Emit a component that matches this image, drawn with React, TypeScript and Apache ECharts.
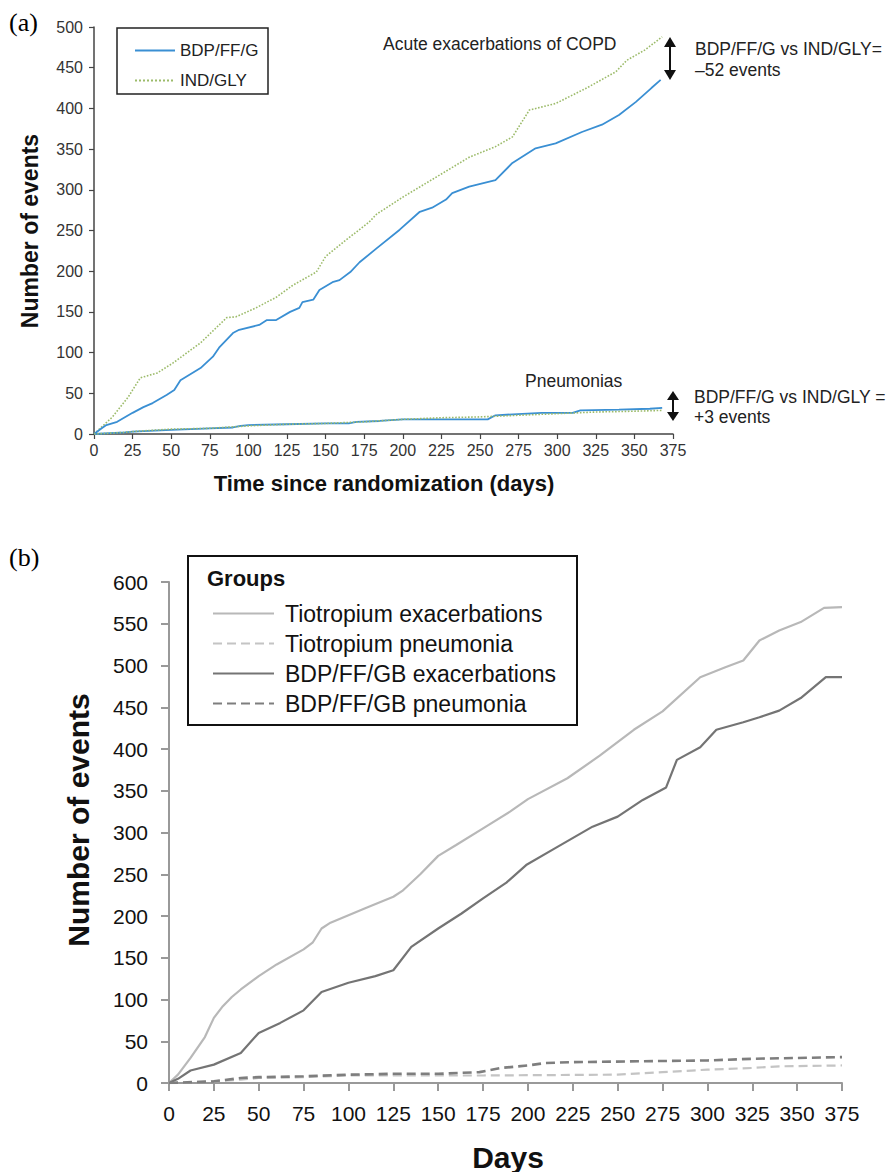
import React, { useEffect, useRef } from "react";
import * as echarts from "echarts";

// ---------- Panel (a) data ----------
const aBdpExDays = [0, 5, 8, 15, 25, 32, 38, 47, 52, 56, 69, 77, 81, 90, 94, 107, 112, 118, 127, 133, 135, 142, 146, 155, 159, 166, 172, 183, 198, 211, 219, 228, 232, 243, 260, 271, 286, 299, 316, 329, 340, 351, 361, 367];
const aBdpExVals = [0, 7, 11, 15, 26, 33, 38, 48, 54, 66, 81, 95, 106, 124, 128, 134, 140, 140, 150, 155, 162, 165, 177, 187, 189, 199, 211, 228, 251, 273, 278, 288, 296, 304, 312, 333, 351, 357, 371, 380, 392, 408, 425, 435];
const aIndExDays = [0, 12, 22, 30, 41, 51, 69, 86, 92, 105, 118, 129, 144, 150, 163, 178, 183, 200, 222, 243, 260, 271, 282, 299, 319, 338, 345, 357, 368];
const aIndExVals = [0, 21, 45, 69, 75, 87, 112, 143, 144, 155, 168, 183, 199, 218, 238, 260, 270, 291, 316, 340, 353, 365, 398, 406, 425, 445, 459, 472, 488];
const aBdpPnDays = [0, 10, 20, 25, 50, 75, 90, 95, 100, 125, 150, 165, 170, 185, 200, 210, 225, 255, 260, 290, 310, 315, 340, 360, 368];
const aBdpPnVals = [0, 1, 2, 3, 5, 7, 8, 10, 11, 12, 13, 13, 15, 16, 18, 18, 18, 18, 23, 26, 26, 29, 30, 31, 32];
const aIndPnDays = [0, 20, 25, 50, 75, 100, 125, 150, 175, 200, 225, 250, 275, 300, 325, 350, 368];
const aIndPnVals = [0, 2, 3, 6, 7, 10, 12, 13, 15, 18, 20, 21, 23, 25, 27, 28, 29];

// ---------- Panel (b) data ----------
const bTioExDays = [0, 5, 12, 20, 25, 30, 35, 40, 50, 60, 75, 80, 85, 90, 100, 110, 125, 130, 140, 150, 160, 175, 190, 200, 222, 240, 259, 275, 296, 310, 320, 329, 340, 352, 365, 375];
const bTioExVals = [0, 10, 30, 55, 78, 92, 103, 112, 128, 142, 160, 168, 185, 192, 201, 210, 223, 230, 250, 272, 285, 305, 325, 340, 365, 392, 423, 445, 486, 498, 506, 530, 542, 552, 569, 570];
const bBdpExDays = [0, 5, 12, 25, 40, 50, 62, 75, 85, 100, 115, 125, 135, 150, 163, 175, 188, 199, 215, 236, 250, 264, 277, 283, 296, 305, 320, 329, 340, 352, 366, 375];
const bBdpExVals = [0, 5, 15, 22, 36, 60, 72, 87, 109, 120, 128, 135, 163, 185, 203, 221, 240, 261, 281, 307, 319, 339, 354, 387, 402, 423, 432, 438, 446, 461, 486, 486];
const bTioPnDays = [0, 25, 40, 50, 75, 100, 150, 175, 250, 275, 300, 325, 340, 375];
const bTioPnVals = [0, 2, 4, 6, 7, 9, 9, 9, 10, 13, 16, 18, 20, 21];
const bBdpPnDays = [0, 25, 40, 50, 75, 100, 125, 150, 173, 185, 200, 210, 225, 300, 325, 375];
const bBdpPnVals = [0, 2, 6, 7, 8, 10, 11, 11, 13, 18, 21, 24, 25, 27, 29, 31];

const aNames = ["BDP/FF/G", "IND/GLY"];
const bNames = ["Tiotropium exacerbations", "Tiotropium pneumonia", "BDP/FF/GB exacerbations", "BDP/FF/GB pneumonia"];

const zip = (xs: number[], ys: number[]) => xs.map((x, i) => [x, ys[i]]);

const SANS = "Liberation Sans, Arial, sans-serif";
const SERIF = "Liberation Serif, Times New Roman, serif";
const NOFILL = { color: "rgba(0,0,0,0)", borderWidth: 0 };

export default function App() {
  const ref = useRef<HTMLDivElement>(null);
  useEffect(() => {
    if (!ref.current) return;
    const chart = echarts.init(ref.current, null, { renderer: "svg" });

    const blue = "#3a8fd3";
    const green = "#9cbb6a";

    const axisA = (isX: boolean) => ({
      type: "value",
      min: 0,
      max: isX ? 375 : 500,
      interval: isX ? 25 : 50,
      axisLine: { show: true, lineStyle: { color: "#444", width: 1.5 } },
      axisTick: { show: true, inside: false, length: 5, lineStyle: { color: "#444", width: 1.2 } },
      axisLabel: { color: "#333", fontSize: 16, fontFamily: SANS, margin: isX ? 8 : 11 },
      splitLine: { show: false },
    });
    const axisB = (isX: boolean) => ({
      type: "value",
      min: 0,
      max: isX ? 375 : 600,
      interval: isX ? 25 : 50,
      axisLine: { show: true, lineStyle: { color: "#999", width: 2 } },
      axisTick: { show: true, inside: false, length: 8, lineStyle: { color: "#999", width: 2 } },
      axisLabel: { color: "#111", fontSize: 21, fontFamily: SANS, margin: isX ? 20 : 21 },
      splitLine: { show: false },
    });

    const textMid = (x: number, y: number, text: string, font: string, rot = 0) => ({
      type: "text", x, y, rotation: rot,
      style: { text, font, fill: "#111", textAlign: "center", textVerticalAlign: "middle", align: "center", verticalAlign: "middle" },
    });
    const textLeft = (x: number, y: number, text: string, font: string) => ({
      type: "text", x, y,
      style: { text, font, fill: "#222", textVerticalAlign: "middle", verticalAlign: "middle" },
    });

    const option: any = {
      animation: false,
      backgroundColor: "#fff",
      grid: [
        { left: 94, top: 27, width: 579, height: 407 },
        { left: 169, top: 582, width: 673, height: 501 },
      ],
      xAxis: [
        { ...axisA(true), gridIndex: 0 },
        { ...axisB(true), gridIndex: 1 },
      ],
      yAxis: [
        { ...axisA(false), gridIndex: 0 },
        { ...axisB(false), gridIndex: 1 },
      ],
      legend: [
        {
          data: aNames,
          orient: "vertical",
          left: 129,
          top: 37,
          itemWidth: 40,
          itemHeight: 16,
          itemGap: 13,
          textStyle: { fontSize: 17, fontFamily: SANS, color: "#222" },
          selectedMode: false,
        },
        {
          data: bNames,
          orient: "vertical",
          left: 207,
          top: 597,
          itemWidth: 61,
          itemHeight: 20,
          itemGap: 7,
          textStyle: { fontSize: 23, fontFamily: SANS, color: "#111", padding: [0, 0, 0, 6] },
          selectedMode: false,
        },
      ],
      series: [
        {
          name: aNames[0], type: "line", xAxisIndex: 0, yAxisIndex: 0, symbol: "none",
          data: zip(aBdpExDays, aBdpExVals), lineStyle: { color: blue, width: 1.8 }, itemStyle: NOFILL, z: 3,
        },
        {
          name: aNames[1], type: "line", xAxisIndex: 0, yAxisIndex: 0, symbol: "none",
          data: zip(aIndExDays, aIndExVals), lineStyle: { color: green, width: 1.6, type: "dotted" }, itemStyle: NOFILL, z: 2,
        },
        {
          name: aNames[0], type: "line", xAxisIndex: 0, yAxisIndex: 0, symbol: "none",
          data: zip(aBdpPnDays, aBdpPnVals), lineStyle: { color: blue, width: 1.8 }, itemStyle: NOFILL, z: 3,
        },
        {
          name: aNames[1], type: "line", xAxisIndex: 0, yAxisIndex: 0, symbol: "none",
          data: zip(aIndPnDays, aIndPnVals), lineStyle: { color: green, width: 1.6, type: "dotted" }, itemStyle: NOFILL, z: 4,
        },
        {
          name: bNames[0], type: "line", xAxisIndex: 1, yAxisIndex: 1, symbol: "none",
          data: zip(bTioExDays, bTioExVals), lineStyle: { color: "#b8b8b8", width: 2.2 }, itemStyle: NOFILL,
        },
        {
          name: bNames[1], type: "line", xAxisIndex: 1, yAxisIndex: 1, symbol: "none",
          data: zip(bTioPnDays, bTioPnVals), lineStyle: { color: "#c4c4c4", width: 2.2, type: [9, 5] }, itemStyle: NOFILL,
        },
        {
          name: bNames[2], type: "line", xAxisIndex: 1, yAxisIndex: 1, symbol: "none",
          data: zip(bBdpExDays, bBdpExVals), lineStyle: { color: "#747474", width: 2.2 }, itemStyle: NOFILL,
        },
        {
          name: bNames[3], type: "line", xAxisIndex: 1, yAxisIndex: 1, symbol: "none",
          data: zip(bBdpPnDays, bBdpPnVals), lineStyle: { color: "#7e7e7e", width: 2.6, type: [9, 5] }, itemStyle: NOFILL,
        },
      ],
      graphic: [
        // panel labels
        { type: "text", left: 9, top: 9, style: { text: "(a)", font: `26px ${SERIF}`, fill: "#000" } },
        { type: "text", left: 9, top: 544, style: { text: "(b)", font: `26px ${SERIF}`, fill: "#000" } },
        // axis titles (a)
        textMid(384, 483, "Time since randomization (days)", `bold 22px ${SANS}`),
        textMid(30, 231, "Number of events", `bold 23px ${SANS}`, Math.PI / 2),
        // axis titles (b)
        textMid(508, 1157, "Days", `bold 30px ${SANS}`),
        textMid(78, 820, "Number of events", `bold 30px ${SANS}`, Math.PI / 2),
        // legend boxes
        { type: "rect", shape: { x: 117, y: 28, width: 151, height: 66 }, style: { fill: "none", stroke: "#222", lineWidth: 1.5 }, z: 10 },
        { type: "rect", shape: { x: 188, y: 556, width: 389, height: 169 }, style: { fill: "none", stroke: "#111", lineWidth: 2 }, z: 10 },
        { type: "text", left: 207, top: 567, style: { text: "Groups", font: `bold 22px ${SANS}`, fill: "#111" } },
        // annotations (a)
        textLeft(383, 44, "Acute exacerbations of COPD", `17.5px ${SANS}`),
        textLeft(695, 49, "BDP/FF/G vs IND/GLY=", `17.5px ${SANS}`),
        textLeft(695, 70, "–52 events", `17.5px ${SANS}`),
        textLeft(525, 381, "Pneumonias", `17.5px ${SANS}`),
        textLeft(694, 397, "BDP/FF/G vs IND/GLY =", `17.5px ${SANS}`),
        textLeft(694, 417, "+3 events", `17.5px ${SANS}`),
        // arrows
        { type: "line", shape: { x1: 670, y1: 45, x2: 670, y2: 72 }, style: { stroke: "#111", lineWidth: 2 } },
        { type: "polygon", shape: { points: [[664, 47], [676, 47], [670, 37]] }, style: { fill: "#111" } },
        { type: "polygon", shape: { points: [[664, 70], [676, 70], [670, 80]] }, style: { fill: "#111" } },
        { type: "line", shape: { x1: 673, y1: 398, x2: 673, y2: 414 }, style: { stroke: "#111", lineWidth: 2 } },
        { type: "polygon", shape: { points: [[667, 400], [679, 400], [673, 391]] }, style: { fill: "#111" } },
        { type: "polygon", shape: { points: [[667, 412], [679, 412], [673, 421]] }, style: { fill: "#111" } },
      ],
    };
    chart.setOption(option);
    return () => chart.dispose();
  }, []);
  return (
    <div
      ref={ref}
      style={{ position: "absolute", left: 0, top: 0, width: 889, height: 1172, background: "#fff" }}
    />
  );
}
